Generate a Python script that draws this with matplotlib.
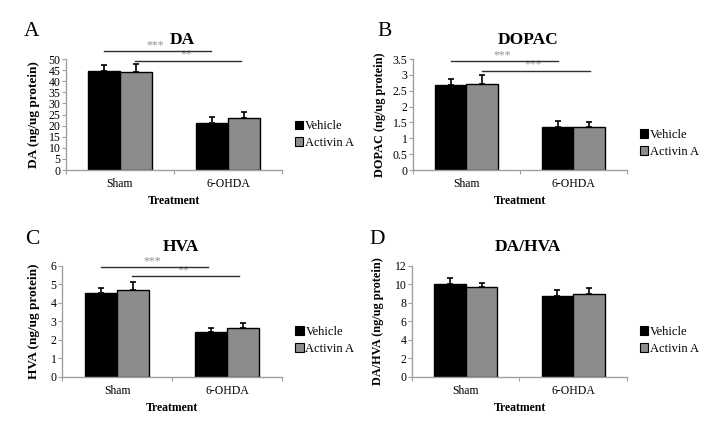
import numpy as np
import matplotlib
matplotlib.use('Agg')
import matplotlib.pyplot as plt
from matplotlib.patches import Patch

plt.rcParams.update({'font.family': ['Liberation Serif', 'DejaVu Serif'],
                     'font.size': 8})

groups = ['Sham', '6-OHDA']
series = ['Vehicle', 'Activin A']

da_mean  = [[44.8, 21.2], [44.0, 23.5]]
da_err   = [[2.7, 2.7], [3.9, 2.6]]
dop_mean = [[2.68, 1.37], [2.72, 1.36]]
dop_err  = [[0.18, 0.17], [0.26, 0.15]]
hva_mean = [[4.55, 2.41], [4.68, 2.63]]
hva_err  = [[0.25, 0.24], [0.45, 0.27]]
rat_mean = [[10.08, 8.74], [9.72, 8.92]]
rat_err  = [[0.61, 0.69], [0.43, 0.69]]

da_ticks  = np.arange(0, 51, 5)
dop_ticks = [0, 0.5, 1, 1.5, 2, 2.5, 3, 3.5]
dop_tlab  = ['0', '0.5', '1', '1.5', '2', '2.5', '3', '3.5']
hva_ticks = np.arange(0, 7, 1)
rat_ticks = np.arange(0, 13, 2)

# significance bars: (x0, x1, y, label)
da_sig  = [(-0.15, 0.84, 53.5, '***'), (0.14, 1.12, 49.2, '**')]
dop_sig = [(-0.145, 0.855, 3.43, '***'), (0.145, 1.15, 3.13, '***')]
hva_sig = [(-0.145, 0.83, 5.95, '***'), (0.14, 1.11, 5.44, '**')]

colors = ['black', '#8c8c8c']
axcol = '#a0a0a0'

fig = plt.figure(figsize=(7.08, 4.48), dpi=100)

panels = [
  # letter, title, ylabel, rect, means, errs, ticks, ticklabels, sig, ylab_x, ylab_size, legend_y, letter_xy
  ('A', 'DA', 'DA (ng/ug protein)', [0.0932, 0.6205, 0.3051, 0.2478],
   da_mean, da_err, da_ticks, None, da_sig, -0.12, 9.5, 0.32, (32, 32)),
  ('B', 'DOPAC', 'DOPAC (ng/ug protein)', [0.5833, 0.6205, 0.3023, 0.2478],
   dop_mean, dop_err, dop_ticks, dop_tlab, dop_sig, -0.126, 8.8, 0.24, (385, 31)),
  ('C', 'HVA', 'HVA (ng/ug protein)', [0.0876, 0.1585, 0.3107, 0.2478],
   hva_mean, hva_err, hva_ticks, None, hva_sig, -0.10, 9.5, 0.33, (32, 239)),
  ('D', 'DA/HVA', 'DA/HVA (ng/ug protein)', [0.5819, 0.1585, 0.3037, 0.2478],
   rat_mean, rat_err, rat_ticks, None, [], -0.13, 8.8, 0.33, (377, 239)),
]

x = np.arange(len(groups))
w = 0.295
for letter, title, ylab, rect, means, errs, ticks, tlab, sig, ylx, yls, legy, lxy in panels:
  ax = fig.add_axes(rect)
  for i in range(2):
    pos = x + (i - 0.5) * w
    ax.bar(pos, means[i], w, color=colors[i], edgecolor='black', linewidth=1.0,
           zorder=2)
    ax.errorbar(pos, means[i], yerr=[np.zeros(2), errs[i]], fmt='none',
                ecolor='black', elinewidth=1.2, capsize=2, capthick=1.2, zorder=3)
  ax.set_xlim(-0.5, 1.5)
  ax.set_ylim(ticks[0], ticks[-1])
  ax.set_yticks(ticks)
  if tlab is not None:
    ax.set_yticklabels(tlab)
  ax.set_xticks([-0.5, 0.5, 1.5])
  ax.set_xticklabels([])
  ax.set_xticks(x, minor=True)
  ax.set_xticklabels(groups, minor=True)
  ax.tick_params(axis='x', which='minor', length=0, pad=5.5, labelsize=8.5)
  ax.tick_params(axis='x', which='major', length=3, color=axcol, direction='out')
  ax.tick_params(axis='y', length=3, color=axcol, direction='out', pad=1,
                 labelsize=8.5)
  for s in ['top', 'right']:
    ax.spines[s].set_visible(False)
  for s in ['left', 'bottom']:
    ax.spines[s].set_color(axcol)
    ax.spines[s].set_linewidth(1.0)
  ax.set_ylabel(ylab, fontweight='bold', fontsize=yls)
  ax.yaxis.set_label_coords(ylx, 0.5)
  ax.set_xlabel('Treatment', fontweight='bold', fontsize=8.5, labelpad=4)
  ax.text(0.54, 1.17, title, transform=ax.transAxes, ha='center', va='center',
          fontweight='bold', fontsize=12.5)
  fig.text(lxy[0] / 708, 1 - lxy[1] / 448, letter, ha='center', va='center',
           fontsize=15.5)
  for x0, x1, yy, lab in sig:
    ax.plot([x0, x1], [yy, yy], color='#303030', linewidth=1.0, clip_on=False,
            zorder=4)
    ax.text((x0 + x1) / 2 - 0.02, yy, lab, ha='center', va='bottom',
            color='#909090', fontsize=8.5, clip_on=False)
  handles = [Patch(facecolor=colors[i], edgecolor='black', linewidth=0.8)
             for i in range(2)]
  ax.legend(handles, series, loc='center left', bbox_to_anchor=(1.03, legy),
            frameon=False, handlelength=0.7, handleheight=0.7,
            handletextpad=0.15, labelspacing=0.35, borderpad=0, fontsize=9)

fig.savefig('out.png', dpi=100)
